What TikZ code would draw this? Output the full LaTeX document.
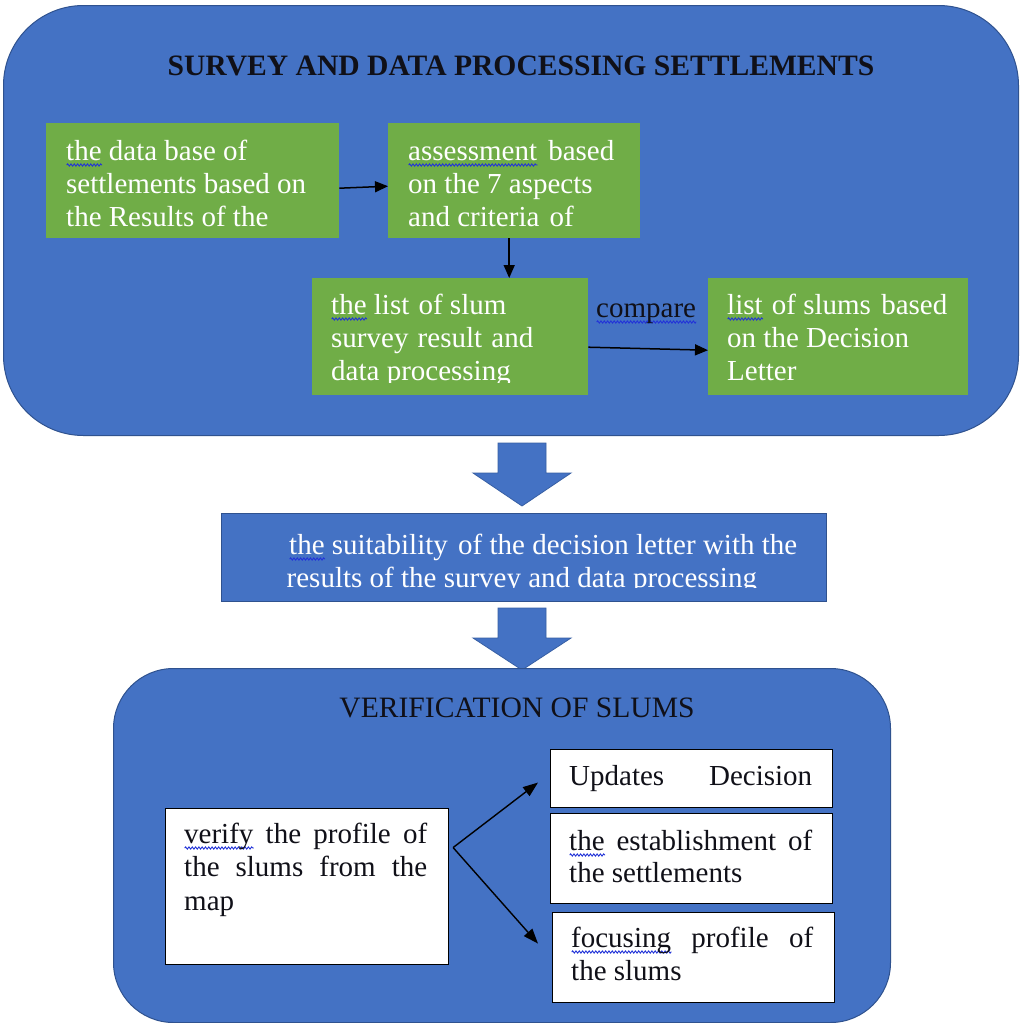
\documentclass[tikz,border=0pt]{standalone}
\usepackage{fontspec}
\setmainfont{Liberation Serif}
\usetikzlibrary{arrows.meta,decorations.pathmorphing}

\definecolor{panelblue}{HTML}{4472C4}
\definecolor{paneledge}{HTML}{2F528F}
\definecolor{leafgreen}{HTML}{70AD47}
\definecolor{inkdark}{HTML}{101018}
\definecolor{spellblue}{HTML}{2233D8}

% wavy proof-reading mark under a word
\newlength\sqw
\newcommand\squig[1]{\settowidth\sqw{#1}\rlap{\tikz[x=1pt,y=1pt,baseline=0pt]\draw[spellblue,line width=0.9pt,decorate,decoration={snake,amplitude=1.1pt,segment length=3.3pt}](0,-5)--(\sqw,-5);}#1}
% lines of text stacked from the first baseline downwards
\newcommand\linestack[2][33pt]{\vtop{\baselineskip=#1\lineskiplimit=-100pt\lineskip=0pt #2}}

\begin{document}
\begin{tikzpicture}[x=1pt,y=-1pt,
  panel/.style={draw=paneledge,line width=1pt,fill=panelblue,rounded corners=#1,anchor=north west,inner sep=0pt},
  leaf/.style={fill=leafgreen,anchor=north west,inner sep=0pt},
  card/.style={draw=black,line width=1.1pt,fill=white,anchor=north west,inner sep=0pt},
  txt/.style={inner sep=0pt,anchor=base west,font=\fontsize{29}{33}\selectfont},
  whitetxt/.style={txt,text=white},
  darktxt/.style={txt,text=inkdark},
  heading/.style={inner sep=0pt,anchor=base,text=inkdark,font=\fontsize{29.6}{33}\selectfont},
  flow/.style={-{Triangle[length=13pt,width=11pt]},line width=1.5pt,black},
  branch/.style={-{Triangle[length=15pt,width=11pt]},line width=1.4pt,black},
  blockarrow/.style={fill=panelblue,draw=paneledge!60!panelblue,line width=0.8pt}]

\fill[white] (0,0) rectangle (1020,1023);
\useasboundingbox (0,0) rectangle (1020,1023);

% ---------- survey panel ----------
\node[panel=80pt,minimum width=1015,minimum height=430] (survey) at (3,5) {};
\node[heading,font=\bfseries\fontsize{29.6}{33}\selectfont] (surveytitle) at (521,75) {SURVEY AND DATA PROCESSING SETTLEMENTS};

\node[leaf,minimum width=293,minimum height=115] (db) at (46,123) {};
\node[leaf,minimum width=252,minimum height=115] (assess) at (388,123) {};
\node[leaf,minimum width=276,minimum height=117] (slumlist) at (312,278) {};
\node[leaf,minimum width=260,minimum height=117] (decree) at (708,278) {};

\node[whitetxt] (dbtext) at (66,160) {\linestack{\hbox{\squig{the} data base of}\hbox{settlements based on}\hbox{the Results of the}}};
\node[whitetxt] (assesstext) at (408,160) {\linestack{\hbox{\squig{assessment}\hspace{4pt} based}\hbox{on the 7 aspects}\hbox{and criteria\hspace{3pt} of}}};
\begin{scope}
  \clip (312,278) rectangle (588,382);
  \node[whitetxt] (slumlisttext) at (331,314) {\linestack{\hbox{\squig{the} list\hspace{2pt} of slum}\hbox{survey\hspace{2pt} result\hspace{2pt} and}\hbox{data processing}}};
\end{scope}
\node[whitetxt] (decreetext) at (727,314) {\linestack{\hbox{\squig{list}\hspace{2pt} of slums\hspace{3pt} based}\hbox{on the Decision}\hbox{Letter}}};
\node[darktxt] (cmp) at (596,317) {\squig{compare}};

\draw[flow] ([yshift=-7.5pt]db.east) -- ([yshift=-5.5pt]assess.west);
\draw[flow] ([xshift=-5pt]assess.south) -- ([xshift=-5pt]assess.south |- slumlist.north);
\draw[flow] ([yshift=-10.5pt]slumlist.east) -- ([yshift=-13.5pt]decree.west);

% ---------- hand-over to the comparison result ----------
\draw[blockarrow] (498,443) -- (546,443) -- (546,473) -- (571,473) -- (522,506) -- (473,473) -- (498,473) -- cycle;

\node[draw=paneledge,line width=0.8pt,fill=panelblue,anchor=north west,inner sep=0pt,minimum width=605,minimum height=88] (suit) at (221,513) {};
\begin{scope}
  \clip (221,513) rectangle (826,587);
  \node[whitetxt] (suittext) at (289,554) {\linestack{\hbox{\squig{the} suitability\hspace{3pt} of the decision letter with the}\hbox{\kern-2.5pt results of the survey and data processing}}};
\end{scope}

\draw[blockarrow] (498,608) -- (546,608) -- (546,638) -- (571,638) -- (522,670) -- (473,638) -- (498,638) -- cycle;

% ---------- verification panel ----------
\node[panel=60pt,minimum width=777,minimum height=354] (verify) at (113,668) {};
\node[heading] (verifytitle) at (517,717) {VERIFICATION OF SLUMS};

\node[card,minimum width=283,minimum height=156] (mapcard) at (165,808) {};
\node[card,minimum width=282,minimum height=58] (update) at (550,749) {};
\node[card,minimum width=282,minimum height=90] (establish) at (550,813) {};
\node[card,minimum width=282,minimum height=90] (focus) at (552,912) {};

\node[darktxt] (maptext) at (184,843) {\linestack[33.5pt]{\hbox to 243pt{\squig{verify}\hfill the\hfill profile\hfill of}\hbox to 243pt{the\hfill slums\hfill from\hfill the}\hbox{map}}};
\node[darktxt] (updatetext) at (569,785) {\hbox to 243pt{Updates\hfill Decision}};
\node[darktxt] (establishtext) at (569,850) {\linestack[32pt]{\hbox to 243pt{\squig{the}\hfill establishment\hfill of}\hbox{the settlements}}};
\node[darktxt] (focustext) at (571,947) {\linestack[33pt]{\hbox to 242pt{\squig{focusing}\hfill profile\hfill of}\hbox{the slums}}};

\coordinate (fork) at ([shift={(4,-39)}]mapcard.east);
\draw[branch] (fork) -- ([xshift=-12pt,yshift=-4pt]update.west);
\draw[branch] (fork) -- ([xshift=-14pt,yshift=14pt]focus.west);

\end{tikzpicture}
\end{document}
